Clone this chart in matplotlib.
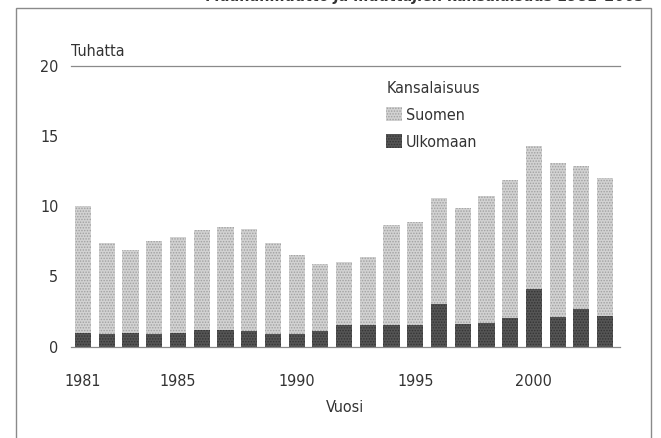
import numpy as np
import matplotlib.pyplot as plt
from matplotlib.patches import Rectangle

plt.rcParams["font.family"] = ["DejaVu Sans"]
plt.rcParams["font.stretch"] = "condensed"
plt.rcParams["hatch.linewidth"] = 0.7

years = list(range(1981, 2004))
# Thousands of people
ulkomaan = [0.95, 0.9, 0.95, 0.9, 0.93, 1.2, 1.15, 1.1, 0.9, 0.9, 1.1, 1.5,
            1.5, 1.55, 1.5, 3.0, 1.6, 1.7, 2.0, 4.1, 2.1, 2.7, 2.2]
suomen = [9.05, 6.5, 5.9, 6.6, 6.87, 7.1, 7.35, 7.3, 6.45, 5.6, 4.8, 4.5,
          4.85, 7.1, 7.4, 7.6, 8.25, 9.0, 9.85, 10.2, 11.0, 10.2, 9.8]
xticks = [1981, 1985, 1990, 1995, 2000]
yticks = [0, 5, 10, 15, 20]

fig = plt.figure(figsize=(6.61, 4.38), dpi=100)
ax = fig.add_axes([0.1074, 0.2089, 0.8306, 0.6404])

ax.bar(years, ulkomaan, width=0.68, color="#555555", hatch="......",
       edgecolor="#333333", linewidth=0, label="Ulkomaan")
ax.bar(years, suomen, bottom=ulkomaan, width=0.68, color="#d2d2d2",
       hatch="......", edgecolor="#a0a0a0", linewidth=0, label="Suomen")

ax.set_xlim(1980.49, 2003.63)
ax.set_ylim(0, 20)
ax.set_xticks(xticks)
ax.set_yticks(yticks)
ax.tick_params(length=0, labelsize=11.5, colors="#333333")
ax.tick_params(axis="x", pad=20)
ax.tick_params(axis="y", pad=9)

for s in ["left", "right"]:
    ax.spines[s].set_visible(False)
for s in ["top", "bottom"]:
    ax.spines[s].set_color("#8a8a8a")
    ax.spines[s].set_linewidth(0.9)

ax.set_xlabel("Vuosi", fontsize=11.5, color="#333333", labelpad=8)
ax.text(0.0, 1.025, "Tuhatta", transform=ax.transAxes, fontsize=11.5,
        color="#333333", ha="left", va="bottom")

handles, labels = ax.get_legend_handles_labels()
leg = ax.legend(handles[::-1], labels[::-1], title="Kansalaisuus",
                loc="upper left", bbox_to_anchor=(0.56, 0.975), frameon=False,
                fontsize=11.5, title_fontsize=11.5, handlelength=1.0,
                handleheight=1.0, handletextpad=0.2, labelspacing=0.7,
                alignment="left", borderpad=0)
for t in leg.get_texts():
    t.set_color("#333333")
leg.get_title().set_color("#333333")

# Outer frame and the cut-off title of the source page
fig.add_artist(Rectangle((16 / 661, -0.01), 635 / 661, 1 - 8 / 438 + 0.01,
                         transform=fig.transFigure, fill=False,
                         edgecolor="#8a8a8a", linewidth=1.0))
fig.text(645 / 661, 1.0 - 1.5 / 438, "Maahanmuutto ja muuttajien kansalaisuus 1981–2003",
         ha="right", va="baseline", fontsize=11.5, fontweight="bold",
         fontstyle="italic", color="#333333")

fig.savefig("out.png", dpi=100, facecolor="white")
